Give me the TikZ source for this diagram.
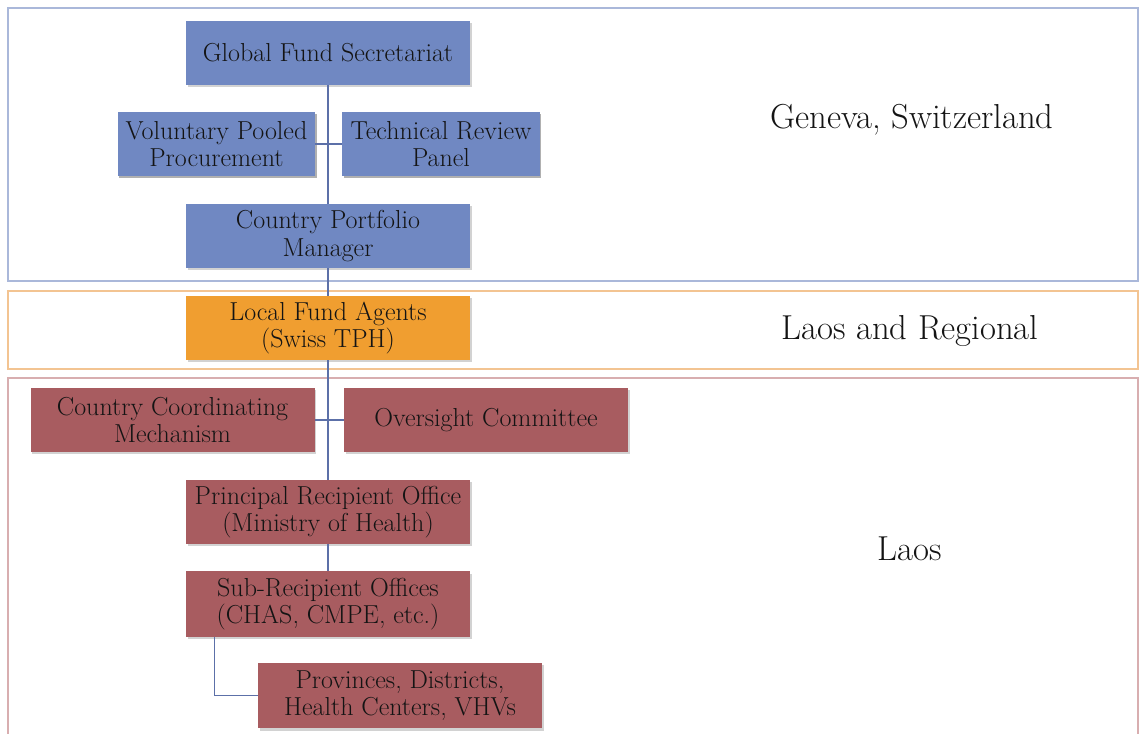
\documentclass[tikz,border=0pt]{standalone}
\usetikzlibrary{shadows}

\definecolor{genevablue}{RGB}{112,136,194}
\definecolor{agentorange}{RGB}{240,158,48}
\definecolor{laosred}{RGB}{168,92,96}
\definecolor{wireblue}{RGB}{92,112,168}
\definecolor{bandblue}{RGB}{170,184,218}
\definecolor{bandorange}{RGB}{243,196,146}
\definecolor{bandred}{RGB}{216,174,176}

\tikzset{
    office/.style={align=center, inner sep=0pt, text=black!92,
        font=\fontsize{19.5}{20.5}\selectfont,
        minimum width=213pt, minimum height=48pt,
        drop shadow={shadow xshift=1.2pt, shadow yshift=-1.8pt, opacity=0.25, fill=black!70}},
    smalloffice/.style={office, minimum width=148pt},
    geneva/.style={office, fill=genevablue},
    agent/.style={office, fill=agentorange},
    laos/.style={office, fill=laosred},
    wire/.style={draw=wireblue, line width=0.8pt},
    band/.style={line width=1.1pt},
    place/.style={font=\fontsize{26}{30}\selectfont, text=black!92}
}

\begin{document}
\begin{tikzpicture}[x=0.75pt, y=-0.75pt]
    \useasboundingbox (0, 0) rectangle (1141, 734);
    \clip (0, 0) rectangle (1141, 734);

    \draw[band, draw=bandblue] (8, 8) rectangle (1138, 281);
    \draw[band, draw=bandorange] (8, 291) rectangle (1138, 369);
    \draw[band, draw=bandred] (8, 378) rectangle (1138, 760);

    \node[place] (geneva) at (912, 120) {Geneva, Switzerland};
    \node[place] (regional) at (910, 331) {Laos and Regional};
    \node[place] (laoslabel) at (910, 549) {Laos};

    \node[geneva] (secretariat) at (328, 53) {Global Fund Secretariat};
    \node[geneva, smalloffice] (pooled) at (216.5, 144) {Voluntary Pooled\\Procurement};
    \node[geneva, smalloffice] (review) at (441, 144) {Technical Review\\Panel};
    \node[geneva] (portfolio) at (328, 236) {Country Portfolio\\Manager};
    \node[agent] (agents) at (328, 328) {Local Fund Agents\\(Swiss TPH)};
    \node[laos] (ccm) at (172.5, 420) {Country Coordinating\\Mechanism};
    \node[laos] (oversight) at (486, 420) {Oversight Committee};
    \node[laos] (principal) at (328, 512) {Principal Recipient Office\\(Ministry of Health)};
    \node[laos, minimum height=49pt] (subrecipient) at (328, 604) {Sub-Recipient Offices\\(CHAS, CMPE, etc.)};
    \node[laos, minimum height=49pt] (provinces) at (400, 695.5) {Provinces, Districts,\\Health Centers, VHVs};

    \draw[wire] (secretariat) -- (portfolio);
    \draw[wire] (portfolio) -- (agents);
    \draw[wire] (agents) -- (principal);
    \draw[wire] (principal) -- (subrecipient);
    \draw[wire] (pooled) -- (review);
    \draw[wire] (ccm) -- (oversight);
    \draw[wire] ([xshift=21.75pt]subrecipient.south west) |- (provinces.west);
\end{tikzpicture}
\end{document}
